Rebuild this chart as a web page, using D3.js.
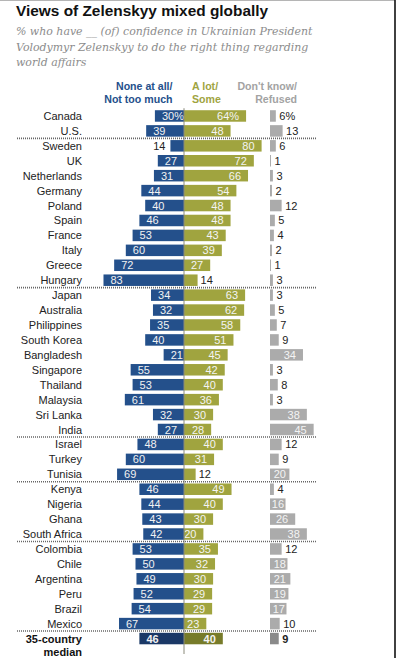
<!DOCTYPE html>
<html>
<head>
<meta charset="utf-8">
<script src="https://cdn.jsdelivr.net/npm/d3@7"></script>
<style>
  html, body { margin: 0; padding: 0; background: #fff; }
  svg { display: block; }
</style>
</head>
<body>
<div id="chart"></div>
<script>
// values
const countries = [
  'Canada', 'U.S.',
  'Sweden', 'UK', 'Netherlands', 'Germany', 'Poland', 'Spain', 'France', 'Italy', 'Greece', 'Hungary',
  'Japan', 'Australia', 'Philippines', 'South Korea', 'Bangladesh', 'Singapore', 'Thailand', 'Malaysia', 'Sri Lanka', 'India',
  'Israel', 'Turkey', 'Tunisia',
  'Kenya', 'Nigeria', 'Ghana', 'South Africa',
  'Colombia', 'Chile', 'Argentina', 'Peru', 'Brazil', 'Mexico',
  '35-country median'
];
const noConfidence = [30, 39, 14, 27, 31, 44, 40, 46, 53, 60, 72, 83, 34, 32, 35, 40, 21, 55, 53, 61, 32, 27, 48, 60, 69, 46, 44, 43, 42, 53, 50, 49, 52, 54, 67, 46];
const confidence   = [64, 48, 80, 72, 66, 54, 48, 48, 43, 39, 27, 14, 63, 62, 58, 51, 45, 42, 40, 36, 30, 28, 40, 31, 12, 49, 40, 30, 20, 35, 32, 30, 29, 29, 23, 40];
const dontKnow     = [6, 13, 6, 1, 3, 2, 12, 5, 4, 2, 1, 3, 3, 5, 7, 9, 34, 3, 8, 3, 38, 45, 12, 9, 20, 4, 16, 26, 38, 12, 18, 21, 19, 17, 10, 9];
const breaksAfter = ['U.S.', 'Hungary', 'India', 'Tunisia', 'South Africa', 'Mexico'];
const seriesHeaders = [
  ['None at all/', 'Not too much'],
  ['A lot/', 'Some'],
  ["Don't know/", 'Refused']
];

const W = 396, H = 658;
const sans = "'Liberation Sans', Arial, sans-serif";
const blue = '#24508b', green = '#a0a43f', grey = '#ababab';
const blueMed = '#1b3866', greenMed = '#777b2a', greyMed = '#8a8a8a';
const medianName = countries[countries.length - 1];

const rows = countries.map((c, i) => ({
  name: c, no: noConfidence[i], yes: confidence[i], dk: dontKnow[i],
  median: c === medianName, pct: i === 0
}));

const svg = d3.select('#chart').append('svg')
  .attr('width', W).attr('height', H);

// frame
svg.append('line').attr('x1', 0).attr('x2', 395).attr('y1', 0.5).attr('y2', 0.5)
  .attr('stroke', '#b5b5b5').attr('stroke-width', 1);
svg.append('line').attr('x1', 395).attr('x2', 395).attr('y1', 0).attr('y2', H)
  .attr('stroke', '#111').attr('stroke-width', 1.6);

// title + subtitle
svg.append('text').attr('x', 16).attr('y', 15.5)
  .style('font-family', sans).style('font-weight', 700).style('font-size', '15.4px')
  .style('fill', '#111').text('Views of Zelenskyy mixed globally');

const sub = [
  '% who have __ (of) confidence in Ukrainian President',
  'Volodymyr Zelenskyy to do the right thing regarding',
  'world affairs'
];
svg.append('g').selectAll('text').data(sub).join('text')
  .attr('x', 16).attr('y', (d, i) => 35 + i * 15.5)
  .style('font-family', "'DejaVu Serif', serif")
  .style('font-style', 'italic').style('font-size', '10.95px')
  .style('fill', '#8c8c8c').text(d => d);

// scales
const y = d3.scaleBand().domain(countries).range([108.5, 646]).paddingInner(0.23).paddingOuter(0.115);
const len = d3.scaleLinear().domain([0, 100]).range([0, 97]);
const cx = 184, dkX = 270;
const bh = y.bandwidth();
const mid = d => y(d.name) + bh / 2;

// headers
const headerStyle = (sel, color) => sel.style('font-family', sans).style('font-weight', 700)
  .style('font-size', '10.6px').style('fill', color);
const hdr = svg.append('g');
[[172.5, 'end', blue], [192, 'start', green], [297, 'end', '#a3a3a3']].forEach((h, k) => {
  hdr.append('g').selectAll('text').data(seriesHeaders[k]).join('text')
    .attr('x', h[0]).attr('y', (d, i) => 90 + i * 13.3)
    .attr('text-anchor', h[1]).call(headerStyle, h[2]).text(d => d);
});

const g = svg.append('g');

// country labels
g.append('g').selectAll('text').data(rows.filter(d => !d.median)).join('text')
  .attr('x', 82).attr('y', d => mid(d) + 4)
  .attr('text-anchor', 'end')
  .style('font-family', sans).style('font-size', '11px').style('fill', '#222')
  .text(d => d.name);
const medRow = rows[rows.length - 1];
g.append('g').selectAll('text').data(['35-country', 'median']).join('text')
  .attr('x', 82).attr('y', (d, i) => mid(medRow) + 4 + i * 13)
  .attr('text-anchor', 'end')
  .style('font-family', sans).style('font-size', '11px').style('font-weight', 700).style('fill', '#111')
  .text(d => d);

// bars
const bars = g.append('g');
bars.selectAll('rect.no').data(rows).join('rect').attr('class', 'no')
  .attr('x', d => cx - len(d.no)).attr('y', d => y(d.name))
  .attr('width', d => len(d.no)).attr('height', bh)
  .attr('fill', d => d.median ? blueMed : blue);
bars.selectAll('rect.yes').data(rows).join('rect').attr('class', 'yes')
  .attr('x', cx).attr('y', d => y(d.name))
  .attr('width', d => len(d.yes)).attr('height', bh)
  .attr('fill', d => d.median ? greenMed : green);
bars.selectAll('rect.dk').data(rows).join('rect').attr('class', 'dk')
  .attr('x', dkX).attr('y', d => y(d.name))
  .attr('width', d => len(d.dk)).attr('height', bh)
  .attr('fill', d => d.median ? greyMed : grey);

// value labels
const lab = (d, v) => d.pct ? v + '%' : String(v);
const valStyle = (sel) => sel.style('font-family', sans).style('font-size', '11px')
  .style('font-weight', d => d.median ? 700 : 400);

g.append('g').selectAll('text').data(rows).join('text')
  .attr('y', d => mid(d) + 4)
  .attr('x', d => d.no < 15 ? cx - len(d.no) - 5 : cx - len(d.no) + 7)
  .attr('text-anchor', d => d.no < 15 ? 'end' : 'start')
  .call(valStyle).style('fill', d => d.no < 15 ? '#222' : '#f2f2f2')
  .text(d => lab(d, d.no));

g.append('g').selectAll('text').data(rows).join('text')
  .attr('y', d => mid(d) + 4)
  .attr('x', d => d.yes < 15 ? cx + len(d.yes) + 3 : cx + len(d.yes) - 7)
  .attr('text-anchor', d => d.yes < 15 ? 'start' : 'end')
  .call(valStyle).style('fill', d => d.yes < 15 ? '#222' : '#f4f4f4')
  .text(d => lab(d, d.yes));

g.append('g').selectAll('text').data(rows).join('text')
  .attr('y', d => mid(d) + 4)
  .attr('x', d => d.dk < 15 ? dkX + len(d.dk) + 3.5 : dkX + len(d.dk) - Math.max(1.5, Math.min(7, len(d.dk) - 16)))
  .attr('text-anchor', d => d.dk < 15 ? 'start' : 'end')
  .call(valStyle).style('fill', d => d.dk < 15 ? '#222' : '#f4f4f4')
  .text(d => lab(d, d.dk));

// center line
g.append('line').attr('x1', cx).attr('x2', cx)
  .attr('y1', y(countries[0]) - 2).attr('y2', 654)
  .attr('stroke', '#8a8a7a').attr('stroke-width', 1);

// dotted group separators
g.append('g').selectAll('line').data(breaksAfter).join('line')
  .attr('x1', 17).attr('x2', 317)
  .attr('y1', d => y(d) + y.step() - (y.step() - bh) / 2)
  .attr('y2', d => y(d) + y.step() - (y.step() - bh) / 2)
  .attr('stroke', '#666').attr('stroke-width', 1.6).attr('stroke-dasharray', '1,1');
</script>
</body>
</html>
